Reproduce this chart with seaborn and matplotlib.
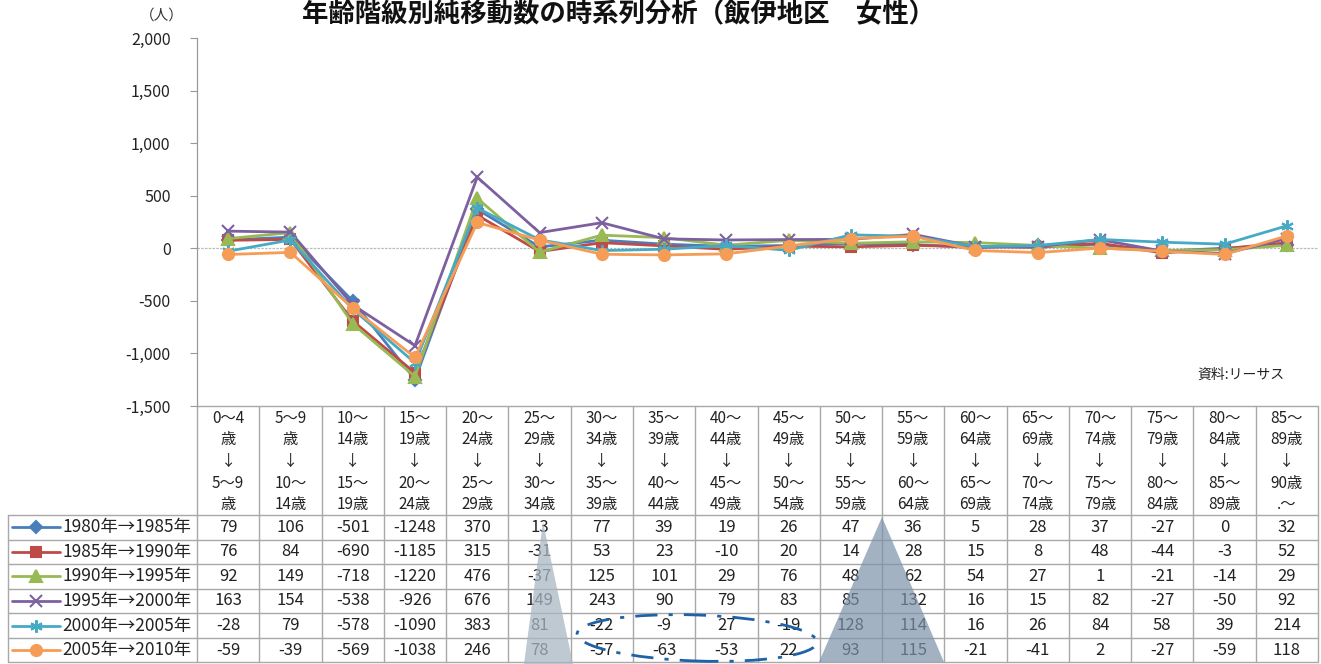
import matplotlib
matplotlib.use("Agg")
import matplotlib.pyplot as plt
import seaborn as sns
import pandas as pd
from matplotlib.patches import Polygon, Ellipse
from matplotlib.transforms import IdentityTransform
from matplotlib.ticker import FuncFormatter

# Data
age_labels = [
    "0～4\n歳\n↓\n5～9\n歳", "5～9\n歳\n↓\n10～\n14歳", "10～\n14歳\n↓\n15～\n19歳",
    "15～\n19歳\n↓\n20～\n24歳", "20～\n24歳\n↓\n25～\n29歳", "25～\n29歳\n↓\n30～\n34歳",
    "30～\n34歳\n↓\n35～\n39歳", "35～\n39歳\n↓\n40～\n44歳", "40～\n44歳\n↓\n45～\n49歳",
    "45～\n49歳\n↓\n50～\n54歳", "50～\n54歳\n↓\n55～\n59歳", "55～\n59歳\n↓\n60～\n64歳",
    "60～\n64歳\n↓\n65～\n69歳", "65～\n69歳\n↓\n70～\n74歳", "70～\n74歳\n↓\n75～\n79歳",
    "75～\n79歳\n↓\n80～\n84歳", "80～\n84歳\n↓\n85～\n89歳", "85～\n89歳\n↓\n90歳\n.～",
]
periods = ["1980年→1985年", "1985年→1990年", "1990年→1995年",
           "1995年→2000年", "2000年→2005年", "2005年→2010年"]
v1980 = [79, 106, -501, -1248, 370, 13, 77, 39, 19, 26, 47, 36, 5, 28, 37, -27, 0, 32]
v1985 = [76, 84, -690, -1185, 315, -31, 53, 23, -10, 20, 14, 28, 15, 8, 48, -44, -3, 52]
v1990 = [92, 149, -718, -1220, 476, -37, 125, 101, 29, 76, 48, 62, 54, 27, 1, -21, -14, 29]
v1995 = [163, 154, -538, -926, 676, 149, 243, 90, 79, 83, 85, 132, 16, 15, 82, -27, -50, 92]
v2000 = [-28, 79, -578, -1090, 383, 81, -22, -9, 27, -19, 128, 114, 16, 26, 84, 58, 39, 214]
v2005 = [-59, -39, -569, -1038, 246, 78, -57, -63, -53, 22, 93, 115, -21, -41, 2, -27, -59, 118]
series = [v1980, v1985, v1990, v1995, v2000, v2005]

colors = ["#4A7EBB", "#BE4B48", "#98B954", "#7D60A0", "#46AAC5", "#F59D56"]
markers = ["D", "s", "^", "x", (6, 2, 0), "o"]
msizes = [6, 7, 8, 9, 9, 8]

W, H = 1321, 664
sns.set_style("white")
plt.rcParams["font.family"] = ["Noto Sans CJK JP", "DejaVu Sans"]

fig = plt.figure(figsize=(W / 100, H / 100), dpi=100)
ax = fig.add_axes([197 / W, 1 - 406 / H, (1318 - 197) / W, (406 - 38) / H])

xs = list(range(len(age_labels)))
for name, vals, c, m, ms in zip(periods, series, colors, markers, msizes):
    df = pd.DataFrame({"x": xs, "y": vals})
    sns.lineplot(data=df, x="x", y="y", color=c, marker=m, markersize=ms,
                 markeredgecolor=c, markeredgewidth=1.5, linewidth=2,
                 ax=ax, legend=False, zorder=3)

ax.set_xlim(-0.5, len(age_labels) - 0.5)
ax.set_ylim(-1500, 2000)
ax.set_yticks(range(-1500, 2001, 500))
ax.yaxis.set_major_formatter(FuncFormatter(lambda v, p: f"{v:,.0f}"))
ax.tick_params(axis="y", labelsize=11.5, colors="#999999", length=5, width=0.8,
               direction="out", left=True, pad=14)
for lab in ax.get_yticklabels():
    lab.set_color("#222222")
ax.set_xticks([])
ax.set_xlabel("")
ax.set_ylabel("")
for s in ["top", "right", "bottom"]:
    ax.spines[s].set_visible(False)
ax.spines["left"].set_color("#999999")
ax.spines["left"].set_linewidth(0.9)
ax.axhline(0, color="#BBBBBB", lw=0.9, ls=(0, (2, 1)), zorder=1)

# table below the axes
ypx = lambda py: (406 - py) / (406 - 38)  # pixel row -> axes fraction
tr = ax.get_xaxis_transform()
grid_c = "#A8A8A8"
header_top, header_bot = 406, 515
row_edges = [515, 539.5, 564, 588.5, 613, 638, 662]
left_x = -0.5 - (197 - 8) / 62.28
right_x = len(age_labels) - 0.5

# horizontal lines
ax.plot([-0.5, right_x], [ypx(header_top)] * 2, transform=tr, color=grid_c, lw=1, clip_on=False)
for e in row_edges:
    ax.plot([left_x, right_x], [ypx(e)] * 2, transform=tr, color=grid_c, lw=1, clip_on=False)
# vertical lines
for i in range(len(age_labels) + 1):
    ax.plot([i - 0.5, i - 0.5], [ypx(header_top), ypx(row_edges[-1])], transform=tr,
            color=grid_c, lw=1, clip_on=False)
ax.plot([left_x, left_x], [ypx(row_edges[0]), ypx(row_edges[-1])], transform=tr,
        color=grid_c, lw=1, clip_on=False)

# header labels
for i, lab in enumerate(age_labels):
    ax.text(i, ypx((header_top + header_bot) / 2 + 1), lab, transform=tr, ha="center",
            va="center", fontsize=11, linespacing=1.36, color="#222222", clip_on=False)

# rows: legend + values
for r, (name, vals, c, m, ms) in enumerate(zip(periods, series, colors, markers, msizes)):
    yc = ypx((row_edges[r] + row_edges[r + 1]) / 2)
    sx0 = left_x + 4 / 62.28
    sx1 = left_x + 52 / 62.28
    ax.plot([sx0, sx1], [yc, yc], transform=tr, color=c, lw=2, clip_on=False)
    ax.plot([(sx0 + sx1) / 2], [yc], transform=tr, color=c, marker=m, markersize=ms,
            markeredgecolor=c, markeredgewidth=1.5, clip_on=False)
    ax.text(sx1 + 2 / 62.28, yc, name, transform=tr, ha="left", va="center",
            fontsize=12.5, color="#222222", clip_on=False)
    for i, v in enumerate(vals):
        ax.text(i, yc, str(v), transform=tr, ha="center", va="center",
                fontsize=12, color="#222222", clip_on=False)

# title, unit, source
fig.text(619 / W, 1 - 15 / H, "年齢階級別純移動数の時系列分析（飯伊地区　女性）",
         ha="center", va="center", fontsize=19, fontweight="bold", color="#111111")
fig.text(162 / W, 1 - 16 / H, "（人）", ha="center", va="center", fontsize=10.5, color="#333333")
fig.text(1285 / W, 1 - 375 / H, "資料:リーサス", ha="right", va="center", fontsize=10,
         color="#222222")

# hand-drawn style annotations (pixel positions)
def pix(pts):
    return [(px, H - py) for px, py in pts]

fig.patches.append(Polygon(pix([(543, 522), (524, 664), (573, 664)]), closed=True,
                           transform=IdentityTransform(), facecolor="#A9B7C4",
                           edgecolor="none", alpha=0.75, zorder=10))
fig.patches.append(Polygon(pix([(882, 517), (819, 662), (944, 662)]), closed=True,
                           transform=IdentityTransform(), facecolor="#7D92AA",
                           edgecolor="none", alpha=0.7, zorder=10))
fig.patches.append(Ellipse((697, H - 638), 240, 46, angle=-2, transform=IdentityTransform(),
                           facecolor="none", edgecolor="#1F62A8", lw=2,
                           ls=(0, (8, 4, 1.5, 4)), zorder=11))

fig.savefig("out.png", dpi=100)
